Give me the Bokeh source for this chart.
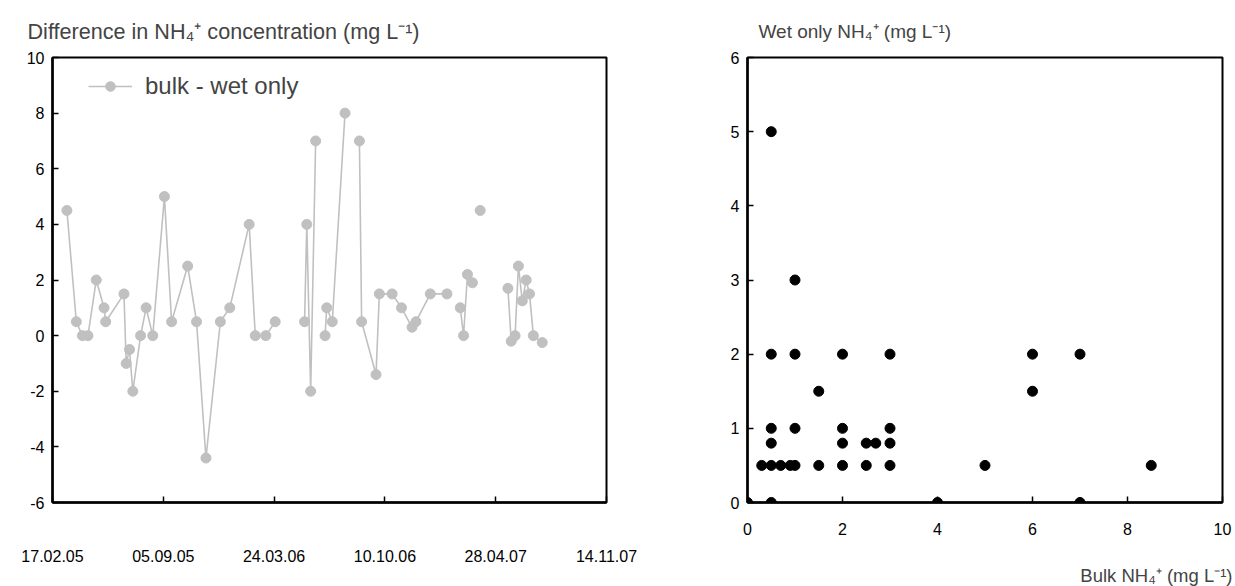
import numpy as np
import pandas as pd
from bokeh.plotting import figure
from bokeh.layouts import row
from bokeh.models import (Range1d, FixedTicker, DatetimeTickFormatter, Title,
                          Legend, LegendItem)
from bokeh.embed import file_html
from bokeh.resources import INLINE

FONT = "Liberation Sans"

# ---------------- data: left chart (bulk - wet only difference) ----------------
sample_dates = [
    "2005-03-15", "2005-04-01", "2005-04-12", "2005-04-22", "2005-05-07",
    "2005-05-21", "2005-05-24", "2005-06-26", "2005-06-30", "2005-07-06",
    "2005-07-12", "2005-07-26", "2005-08-05", "2005-08-17", "2005-09-07",
    "2005-09-20", "2005-10-19", "2005-11-04", "2005-11-21", "2005-12-17",
    "2006-01-03", "2006-02-07", "2006-02-18", "2006-03-09", "2006-03-26",
    "2006-05-18", "2006-05-22", "2006-05-29", "2006-06-07",
    "2006-06-24", "2006-06-27", "2006-07-07", "2006-07-30",
    "2006-08-25", "2006-08-29", "2006-09-24", "2006-09-30", "2006-10-23",
    "2006-11-09", "2006-11-28", "2006-12-05", "2006-12-31", "2007-01-30",
    "2007-02-23", "2007-03-01", "2007-03-08", "2007-03-17",
    "2007-03-31",
    "2007-05-20", "2007-05-26", "2007-06-02", "2007-06-08", "2007-06-15",
    "2007-06-22", "2007-06-28", "2007-07-05", "2007-07-21",
]
diff_values = [
    4.5, 0.5, 0.0, 0.0, 2.0,
    1.0, 0.5, 1.5, -1.0, -0.5,
    -2.0, 0.0, 1.0, 0.0, 5.0,
    0.5, 2.5, 0.5, -4.4, 0.5,
    1.0, 4.0, 0.0, 0.0, 0.5,
    0.5, 4.0, -2.0, 7.0,
    0.0, 1.0, 0.5, 8.0,
    7.0, 0.5, -1.4, 1.5, 1.5,
    1.0, 0.3, 0.5, 1.5, 1.5,
    1.0, 0.0, 2.2, 1.9,
    4.5,
    1.7, -0.2, 0.0, 2.5, 1.25,
    2.0, 1.5, 0.0, -0.25,
]
# dates after which the line is interrupted (missing samples)
gap_after = ["2006-03-26", "2006-06-07", "2006-07-30", "2007-01-30",
             "2007-03-17", "2007-03-31"]
date_ticks = ["2005-02-17", "2005-09-05", "2006-03-24", "2006-10-10",
              "2007-04-28", "2007-11-14"]
diff_ticks = [-6, -4, -2, 0, 2, 4, 6, 8, 10]

# ---------------- data: right chart (wet only vs bulk) ----------------
bulk_nh4 = [0, 0.5, 0.3, 0.5, 0.7, 0.9, 1.0, 0.5, 0.5, 0.5, 0.5,
            1.0, 1.0, 1.0, 1.5, 1.5, 2.0, 2.0, 2.0, 2.0, 2.5, 2.7, 2.5,
            3.0, 3.0, 3.0, 3.0, 4.0, 5.0, 6.0, 6.0, 7.0, 7.0, 8.5]
wet_nh4 = [0, 0.0, 0.5, 0.5, 0.5, 0.5, 0.5, 0.8, 1.0, 2.0, 5.0,
           1.0, 2.0, 3.0, 1.5, 0.5, 2.0, 1.0, 0.8, 0.5, 0.8, 0.8, 0.5,
           2.0, 1.0, 0.8, 0.5, 0.0, 0.5, 2.0, 1.5, 2.0, 0.0, 0.5]
bulk_ticks = [0, 2, 4, 6, 8, 10]
wet_ticks = [0, 1, 2, 3, 4, 5, 6]


def to_ms(s):
    return pd.Timestamp(s).value / 1e6


x_ms = [to_ms(d) for d in sample_dates]
line_x, line_y = [], []
for d, xm, v in zip(sample_dates, x_ms, diff_values):
    line_x.append(xm)
    line_y.append(v)
    if d in gap_after:
        line_x.append(xm)
        line_y.append(np.nan)


def style_axes(p, label_size, standoff_x, standoff_y):
    p.xgrid.visible = False
    p.ygrid.visible = False
    p.outline_line_color = "black"
    p.outline_line_width = 2
    p.outline_line_alpha = 1
    p.background_fill_color = "white"
    p.border_fill_color = "white"
    for ax in p.axis:
        ax.axis_line_width = 2.5
        ax.axis_line_color = "black"
        ax.major_tick_in = 6
        ax.major_tick_out = 0
        ax.major_tick_line_width = 1.5
        ax.major_tick_line_color = "black"
        ax.minor_tick_line_color = None
        ax.major_label_text_font = FONT
        ax.major_label_text_font_size = label_size
        ax.major_label_text_color = "black"
    p.xaxis.major_label_standoff = standoff_x
    p.yaxis.major_label_standoff = standoff_y


# ---------------- left figure ----------------
p1 = figure(width=688, height=586, x_axis_type="datetime",
            output_backend="svg", toolbar_location=None,
            x_range=Range1d(to_ms(date_ticks[0]), to_ms(date_ticks[-1])),
            y_range=Range1d(diff_ticks[0], diff_ticks[-1]),
            min_border_left=52, min_border_right=82,
            min_border_top=57, min_border_bottom=83,
            title="Difference in NH\u2084\u207a concentration (mg L\u207b\u00b9)")
p1.title.align = "left"
p1.title.offset = -25
p1.title.text_font = FONT
p1.title.text_font_size = "21.6px"
p1.title.text_font_style = "normal"
p1.title.standoff = 27

style_axes(p1, "16px", 47, 8)
p1.xaxis.ticker = FixedTicker(ticks=[to_ms(d) for d in date_ticks])
fmt = "%d.%m.%y"
p1.xaxis.formatter = DatetimeTickFormatter(
    milliseconds=fmt, seconds=fmt, minsec=fmt, minutes=fmt, hourmin=fmt,
    hours=fmt, days=fmt, months=fmt, years=fmt)
p1.yaxis.ticker = FixedTicker(ticks=diff_ticks)
p1.yaxis.major_label_overrides = {t: str(t) for t in diff_ticks}

GREY = "#c0c0c0"
lr = p1.line(x=line_x, y=line_y, line_color=GREY, line_width=1.6)
cr = p1.scatter(x=x_ms, y=diff_values, size=10, fill_color=GREY,
                line_color=GREY)

legend = Legend(items=[LegendItem(label="bulk - wet only", renderers=[lr, cr])],
                location=(36, 402), border_line_color=None,
                background_fill_alpha=0, label_text_font=FONT,
                label_text_font_size="24px", glyph_width=44, glyph_height=24,
                label_standoff=13, padding=0, margin=0, spacing=0)
p1.add_layout(legend)

# ---------------- right figure ----------------
p2 = figure(width=547, height=586, output_backend="svg",
            toolbar_location=None,
            x_range=Range1d(bulk_ticks[0], bulk_ticks[-1]),
            y_range=Range1d(wet_ticks[0], wet_ticks[-1]),
            min_border_left=59, min_border_right=13,
            min_border_top=57, min_border_bottom=78,
            title="Wet only NH\u2084\u207a (mg L\u207b\u00b9)")
p2.title.align = "left"
p2.title.offset = 11
p2.title.text_font = FONT
p2.title.text_font_size = "19px"
p2.title.text_font_style = "normal"
p2.title.vertical_align = "middle"
p2.title.standoff = 29

style_axes(p2, "16px", 20, 8)
p2.xaxis.ticker = FixedTicker(ticks=bulk_ticks)
p2.yaxis.ticker = FixedTicker(ticks=wet_ticks)

p2.scatter(x=bulk_nh4, y=wet_nh4, size=10, fill_color="black",
           line_color="black")

# blank spacer between the tick labels and the axis title
spacer = Title(text="\u00a0", text_font=FONT, text_font_size="8px", standoff=13)
p2.add_layout(spacer, "below")
x_title = Title(text="Bulk NH\u2084\u207a (mg L\u207b\u00b9)", align="right",
                offset=-10, text_font=FONT, text_font_size="18.5px",
                text_font_style="normal", standoff=2)
p2.add_layout(x_title, "below")

layout = row(p1, p2)
open("out.html", "w").write(file_html(layout, INLINE))
